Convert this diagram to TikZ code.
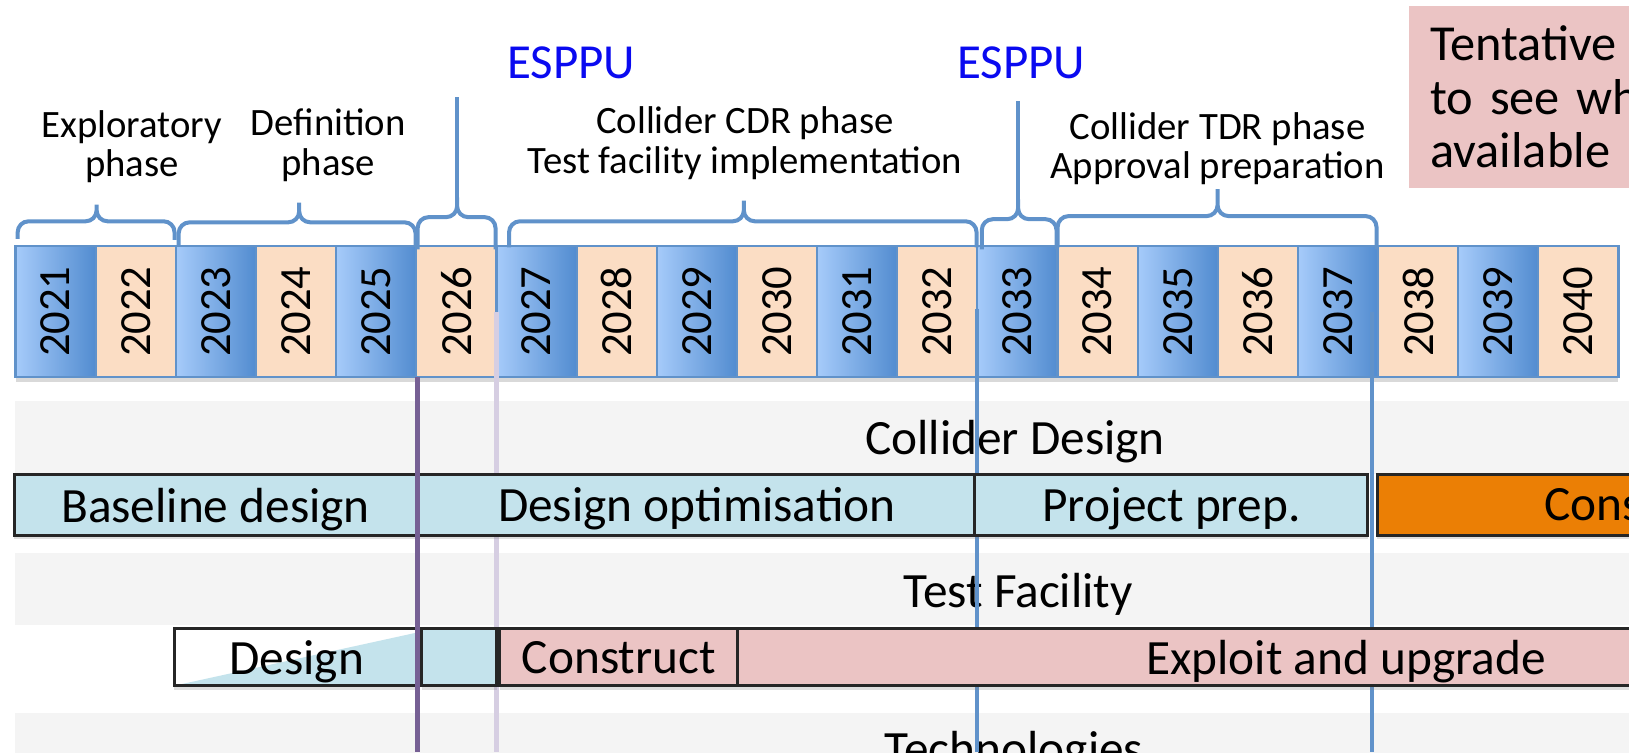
\documentclass[tikz,border=0pt]{standalone}
\usepackage{fontspec}
\setmainfont{Carlito}
\usepackage{graphicx}
\usepackage{tikz}
\usetikzlibrary{positioning, shadows}
\definecolor{year-blue-l}{RGB}{166,203,250}
\definecolor{year-blue-d}{RGB}{82,140,208}
\definecolor{year-peach}{RGB}{251,221,196}
\definecolor{year-line}{RGB}{96,146,202}
\definecolor{brace-blue}{RGB}{96,146,202}
\definecolor{esppu-blue}{RGB}{10,10,240}
\definecolor{band-gray}{RGB}{244,244,244}
\definecolor{cd-blue}{RGB}{196,227,236}
\definecolor{tf-pink}{RGB}{235,196,196}
\definecolor{cons-orange}{RGB}{235,127,5}
\definecolor{line-purple}{RGB}{118,96,148}
\definecolor{line-lavender}{RGB}{214,206,226}

\begin{document}
\begin{tikzpicture}[
    x=0.01cm, y=-0.01cm,
    node distance=0pt,
    yearbox/.style={rectangle, draw=year-line, line width=0.6pt, outer sep=0pt, minimum width=0.771cm, minimum height=1.26cm, inner sep=0pt, font=\fontsize{12.2}{13}\selectfont, drop shadow={shadow xshift=0pt, shadow yshift=-1.2pt, opacity=0.3}},
    yblue/.style={yearbox, left color=year-blue-l, right color=year-blue-d},
    ypeach/.style={yearbox, fill=year-peach},
    phase/.style={align=center, font=\fontsize{10.6}{10.8}\selectfont},
    esppu/.style={text=esppu-blue, font=\fontsize{13.4}{14}\selectfont},
    phasebrace/.style={draw=brace-blue, line width=1.1pt, rounded corners=3pt},
    tick/.style={draw=brace-blue, line width=1.1pt},
    bandlabel/.style={font=\fontsize{13.5}{14}\selectfont},
    cdbox/.style={rectangle, draw=black!85, line width=0.8pt, outer sep=0pt, fill=cd-blue, minimum height=0.58cm, inner sep=0pt, text depth=0pt, font=\fontsize{13.5}{14}\selectfont, drop shadow={shadow xshift=0pt, shadow yshift=-1.2pt, opacity=0.25}},
    tfbox/.style={cdbox, minimum height=0.55cm},
    milestone/.style={line width=1.3pt}
]
\useasboundingbox (0,0) rectangle (1568,724);
\clip (0,0) rectangle (1568,724);

% Bands
\fill[band-gray] (14,386) rectangle (1568,456);
\fill[band-gray] (14,532) rectangle (1568,602);
\fill[band-gray] (14,686) rectangle (1568,760);
\node[bandlabel] (cdlabel) at (977,425) {Collider Design};
\node[bandlabel] (tflabel) at (980,572) {Test Facility};
\node[bandlabel, anchor=base] (techlabel) at (976,737) {Technologies};

% Years
\node[yblue, anchor=north west] (y2021) at (15,237) {\rotatebox{90}{2021}};
\node[ypeach, right=of y2021] (y2022) {\rotatebox{90}{2022}};
\node[yblue, right=of y2022] (y2023) {\rotatebox{90}{2023}};
\node[ypeach, right=of y2023] (y2024) {\rotatebox{90}{2024}};
\node[yblue, right=of y2024] (y2025) {\rotatebox{90}{2025}};
\node[ypeach, right=of y2025] (y2026) {\rotatebox{90}{2026}};
\node[yblue, right=of y2026] (y2027) {\rotatebox{90}{2027}};
\node[ypeach, right=of y2027] (y2028) {\rotatebox{90}{2028}};
\node[yblue, right=of y2028] (y2029) {\rotatebox{90}{2029}};
\node[ypeach, right=of y2029] (y2030) {\rotatebox{90}{2030}};
\node[yblue, right=of y2030] (y2031) {\rotatebox{90}{2031}};
\node[ypeach, right=of y2031] (y2032) {\rotatebox{90}{2032}};
\node[yblue, right=of y2032] (y2033) {\rotatebox{90}{2033}};
\node[ypeach, right=of y2033] (y2034) {\rotatebox{90}{2034}};
\node[yblue, right=of y2034] (y2035) {\rotatebox{90}{2035}};
\node[ypeach, right=of y2035] (y2036) {\rotatebox{90}{2036}};
\node[yblue, right=of y2036] (y2037) {\rotatebox{90}{2037}};
\node[ypeach, right=of y2037] (y2038) {\rotatebox{90}{2038}};
\node[yblue, right=of y2038] (y2039) {\rotatebox{90}{2039}};
\node[ypeach, right=of y2039] (y2040) {\rotatebox{90}{2040}};

% Phases
\node[phase] (explo) at (127,141) {Exploratory\\phase};
\node[phase] (defin) at (316,140) {Definition\\phase};
\node[phase] (cdr) at (717,138) {Collider CDR phase\\Test facility implementation};
\node[phase] (tdr) at (1172,143) {Collider TDR phase\\Approval preparation};
\node[esppu] (esppu1) at (550,60) {ESPPU};
\node[esppu] (esppu2) at (983,60) {ESPPU};

% Braces
\draw[phasebrace] (17,230) |- (93,213) -- (93,197) (93,197) -- (93,213) -| (168,231);
\draw[phasebrace] (172,236) |- (288,214) -- (288,195) (288,195) -- (288,214) -| (400,236);
\draw[phasebrace] (402,240) |- (440,209) -- (440,190) (440,190) -- (440,209) -| (477,240);
\draw[phasebrace] (490,238) |- (716,213) -- (716,193) (716,193) -- (716,213) -| (940,238);
\draw[phasebrace] (945,240) |- (980,211) -- (980,192) (980,192) -- (980,211) -| (1017,240);
\draw[phasebrace] (1018,238) |- (1172,208) -- (1172,182) (1172,182) -- (1172,208) -| (1325,240);
\draw[tick] (440,195) -- (440,93);
\draw[tick] (980,196) -- (980,97);

% Tentative note
\node[rectangle, fill=tf-pink, anchor=north west, text width=3.2cm, inner xsep=0.2cm, minimum height=1.75cm, align=left, font=\fontsize{13.8}{14.6}\selectfont] (tent) at (1356,5) {Tentative\\to see wh\\available};

% Milestone lines
\draw[milestone, draw=line-lavender] (478,300) -- (478,724);
\draw[milestone, draw=brace-blue, line width=1.1pt] (940,297) -- (940,724);
\draw[milestone, draw=brace-blue, line width=1.1pt] (1321,300) -- (1321,724);

% Collider design
\node[cdbox, minimum width=3.87cm] (base) at (207.5,486) {Baseline design};
\node[cdbox, minimum width=5.35cm, right=0.02cm of base] (optim) {Design optimisation};
\node[cdbox, minimum width=3.78cm, right=of optim] (prep) {Project prep.};
\node[cdbox, fill=cons-orange, minimum width=4.15cm, right=0.09cm of prep] (cons) {Cons};

% Test facility
\node[tfbox, fill=white, minimum width=2.35cm, path picture={\fill[cd-blue] (path picture bounding box.south west) -- (path picture bounding box.south east) -- ([yshift=-1pt]path picture bounding box.north east) -- cycle;}] (tfdesign) at (285.5,632.5) {Design};
\node[tfbox, minimum width=0.72cm, right=0.03cm of tfdesign] (tfgap) {};
\node[tfbox, fill=tf-pink, minimum width=2.29cm, right=0.03cm of tfgap] (tfbuild) {Construct};
\node[tfbox, fill=tf-pink, minimum width=11.7cm, right=of tfbuild] (tfexploit) {Exploit and upgrade};

\draw[milestone, draw=line-purple] (402,363) -- (402,724);

\end{tikzpicture}
\end{document}
